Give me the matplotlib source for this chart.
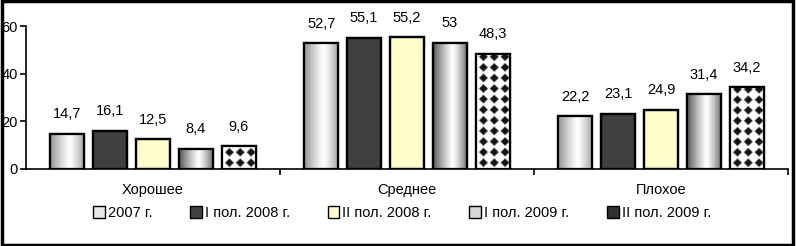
import numpy as np
import matplotlib.pyplot as plt
from matplotlib.patches import Rectangle, Patch
from matplotlib import font_manager

# data
categories = ['Хорошее', 'Среднее', 'Плохое']
series = ['2007 г.', 'I пол. 2008 г.', 'II пол. 2008 г.', 'I пол. 2009 г.', 'II пол. 2009 г.']
v2007 = [14.7, 52.7, 22.2]
v2008_1 = [16.1, 55.1, 23.1]
v2008_2 = [12.5, 55.2, 24.9]
v2009_1 = [8.4, 53.0, 31.4]
v2009_2 = [9.6, 48.3, 34.2]
labels = [['14,7', '52,7', '22,2'],
          ['16,1', '55,1', '23,1'],
          ['12,5', '55,2', '24,9'],
          ['8,4', '53', '31,4'],
          ['9,6', '48,3', '34,2']]
values = [v2007, v2008_1, v2008_2, v2009_1, v2009_2]

names = [f.name for f in font_manager.fontManager.ttflist]
fam = 'Liberation Sans Narrow' if 'Liberation Sans Narrow' in names else 'Liberation Sans'
plt.rcParams['font.family'] = [fam, 'DejaVu Sans']

fig = plt.figure(figsize=(7.96, 2.46), dpi=100)
ax = fig.add_axes([26/796, 1-169/246, (788-26)/796, (169-26)/246])

x = np.arange(len(categories))
bw = 0.134
stride = 0.169
offsets = (np.arange(5) - 2) * stride


def gradient_img(dark_l, dark_r):
    t = np.linspace(0, 1, 64)
    peak = 0.55
    g = np.where(t < peak, dark_l + (1 - dark_l) * (t / peak) ** 0.8,
                 1 - (1 - dark_r) * ((t - peak) / (1 - peak)) ** 1.3)
    return np.tile(g, (2, 1))


def diamond_img(wpx, hpx):
    # black diamonds on a square grid, drawn pixel by pixel
    yy, xx = np.mgrid[0:hpx * 2, 0:wpx * 2] / 2.0 + 0.25
    p = 10.5
    d = np.abs((xx - 2) % p - p / 2) + np.abs((yy - 1) % p - p / 2)
    return np.clip((d - 3.6) / 1.2, 0.08, 1.0)[::-1]


px_per_unit = 143 / 60
for k, vals in enumerate(values):
    xs = x + offsets[k]
    for xi, v, lab in zip(xs, vals, labels[k]):
        x0 = xi - bw / 2
        if k == 1:
            fc = '#404040'
        elif k == 2:
            fc = '#ffffcc'
        else:
            fc = 'white'
        rect = Rectangle((x0, 0), bw, v, facecolor=fc, edgecolor='black', lw=1.6, zorder=3)
        ax.add_patch(rect)
        if k in (0, 3):
            img = gradient_img(0.55, 0.62) if k == 0 else gradient_img(0.3, 0.4)
            im = ax.imshow(img, cmap='gray', vmin=0, vmax=1, extent=(x0, x0 + bw, 0, v),
                           aspect='auto', zorder=3.5, interpolation='bilinear')
            im.set_clip_path(rect)
        elif k == 4:
            img = diamond_img(34, int(round(v * px_per_unit)))
            im = ax.imshow(img, cmap='gray', vmin=0, vmax=1, extent=(x0, x0 + bw, 0, v),
                           aspect='auto', zorder=3.5, interpolation='bilinear')
            im.set_clip_path(rect)
        ax.add_patch(Rectangle((x0, 0), bw, v, facecolor='none', edgecolor='black', lw=1.6, zorder=4))
        ax.annotate(lab, (xi, v), xytext=(0, 9), textcoords='offset points',
                    ha='center', va='bottom', fontsize=10.5)

ax.set_xlim(-0.5, 2.5)
ax.set_ylim(0, 60)
ax.set_yticks([0, 20, 40, 60])
ax.tick_params(axis='y', direction='out', length=4, width=1.2, labelsize=10.5, pad=2)
ax.set_xticks(x)
ax.set_xticklabels(categories, fontsize=10.5)
ax.tick_params(axis='x', which='major', length=0, pad=10)
ax.set_xticks([0.5, 1.5, 2.5], minor=True)
ax.tick_params(axis='x', which='minor', direction='out', length=4, width=1.2)
for s in ['top', 'right']:
    ax.spines[s].set_visible(False)
for s in ['left', 'bottom']:
    ax.spines[s].set_linewidth(1.2)

handles = [Patch(facecolor='#e8e8e8', edgecolor='black'),
           Patch(facecolor='#404040', edgecolor='black'),
           Patch(facecolor='#ffffcc', edgecolor='black'),
           Patch(facecolor='#d8d8d8', edgecolor='black'),
           Patch(facecolor='#303030', edgecolor='black')]
fig.legend(handles, series, loc='center', bbox_to_anchor=(0.505, 1 - 213/246), ncol=5,
           frameon=False, fontsize=10.5, handlelength=0.8, handleheight=0.8,
           handletextpad=0.2, columnspacing=2.6)

fig.patches.append(Rectangle((0.002, 0.006), 0.994, 0.988, transform=fig.transFigure,
                             fill=False, edgecolor='black', lw=2.5))
fig.savefig('out.png', dpi=100)
